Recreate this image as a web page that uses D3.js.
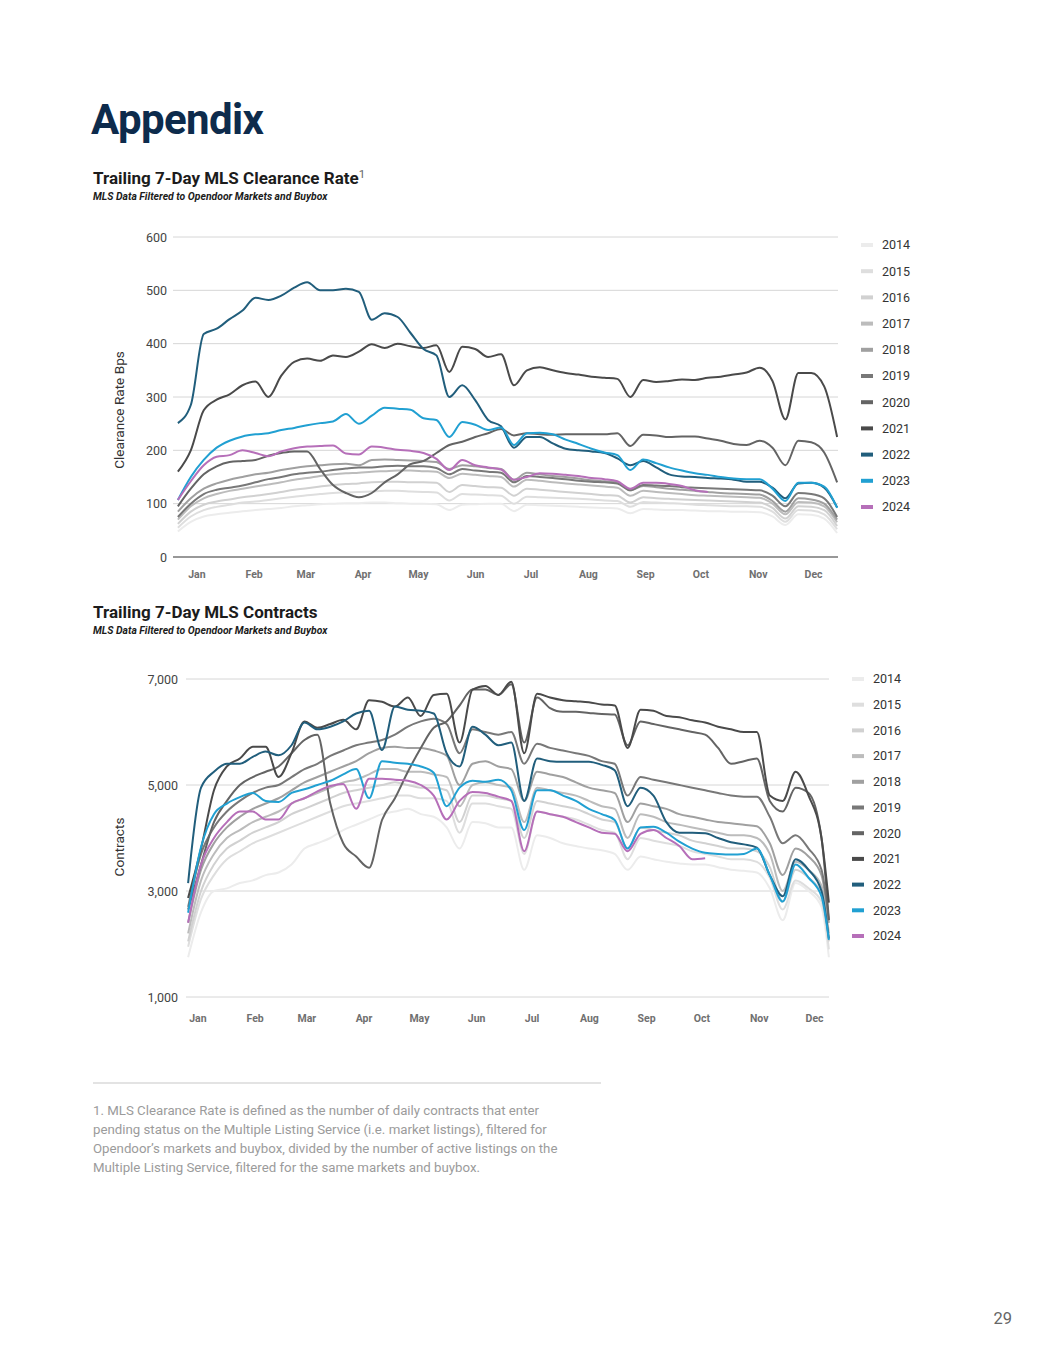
<!DOCTYPE html>
<html>
<head>
<meta charset="utf-8">
<script src="https://cdn.jsdelivr.net/npm/d3@7"></script>
<style>
  body { margin: 0; background: #fff; }
  svg { display: block; font-family: Roboto, "Noto Sans", sans-serif; }
</style>
</head>
<body>
<div id="page"></div>
<script>
// ---- data (weekly samples) ----
var years = ["2014", "2015", "2016", "2017", "2018", "2019", "2020", "2021", "2022", "2023", "2024"];
var yearColors = ["#ececec", "#dedede", "#d1d1d1", "#bcbcbc", "#a0a0a0", "#787878", "#646464", "#4a4a4a", "#215e7c", "#21a0d2", "#b66fb9"];

var monthNames = ["Jan", "Feb", "Mar", "Apr", "May", "Jun", "Jul", "Aug", "Sep", "Oct", "Nov", "Dec"];
var monthMidDays = [14, 45, 73, 104, 134, 165, 195, 226, 257, 287, 318, 348];

// day of year of each weekly sample
var days1 = [4, 11, 18, 25, 32, 39, 46, 53, 60, 67, 74, 81, 88, 95, 102, 109, 116, 123, 130, 137,
  144, 151, 158, 165, 172, 179, 186, 193, 200, 207, 214, 221, 228, 235, 242, 249, 256, 263, 270, 277,
  284, 291, 298, 305, 312, 319, 326, 333, 340, 347, 354, 361];
var days2 = [9, 16, 23, 30, 37, 44, 51, 58, 65, 72, 79, 86, 93, 100, 107, 114, 121, 128, 135, 142,
  149, 156, 163, 170, 177, 184, 191, 198, 205, 212, 219, 226, 233, 240, 247, 254, 261, 268, 275, 282,
  289, 296, 303, 310, 317, 324, 331, 338, 345, 352, 356];

// Trailing 7-day MLS clearance rate (bps)
var clear2014 = [48, 66, 76, 80, 83, 86, 88, 90, 92, 95, 97, 99, 100, 101, 101, 102, 102, 101, 100, 100, 99, 88, 98, 99, 100, 100, 86, 98, 97, 96, 95, 94, 93, 92, 91, 82, 90, 89, 88, 88, 87, 86, 86, 85, 85, 84, 76, 60, 80, 79, 72, 45];
var clear2015 = [55, 76, 88, 94, 98, 102, 104, 107, 110, 113, 116, 118, 120, 121, 122, 123, 124, 124, 123, 122, 121, 106, 118, 117, 116, 115, 100, 113, 112, 111, 110, 109, 108, 106, 105, 94, 103, 102, 101, 100, 98, 97, 96, 95, 95, 94, 85, 66, 88, 87, 80, 52];
var clear2016 = [62, 85, 98, 104, 108, 112, 115, 118, 122, 126, 129, 132, 135, 137, 138, 140, 141, 141, 140, 140, 139, 122, 135, 133, 131, 130, 115, 128, 126, 124, 122, 120, 118, 116, 115, 102, 112, 110, 109, 108, 107, 106, 105, 104, 103, 102, 92, 72, 95, 94, 88, 58];
var clear2017 = [70, 95, 110, 118, 124, 128, 132, 136, 140, 145, 148, 152, 155, 157, 158, 160, 161, 162, 162, 161, 160, 148, 156, 154, 152, 150, 132, 145, 143, 140, 138, 136, 134, 132, 130, 115, 124, 122, 120, 118, 116, 115, 114, 113, 112, 111, 100, 80, 103, 102, 95, 65];
var clear2018 = [85, 110, 128, 138, 145, 150, 155, 158, 163, 167, 170, 172, 174, 175, 172, 182, 183, 182, 181, 180, 178, 165, 172, 170, 167, 165, 145, 158, 155, 152, 150, 147, 144, 142, 140, 125, 133, 131, 128, 126, 124, 122, 120, 119, 118, 117, 105, 85, 110, 108, 100, 70];
var clear2019 = [75, 100, 118, 126, 130, 134, 140, 146, 150, 155, 158, 160, 163, 166, 168, 168, 170, 171, 170, 170, 167, 155, 165, 162, 160, 158, 140, 152, 150, 148, 146, 143, 141, 140, 138, 125, 135, 134, 133, 131, 130, 129, 128, 127, 126, 125, 115, 95, 120, 118, 110, 75];
var clear2020 = [95, 128, 155, 170, 178, 180, 182, 190, 195, 198, 198, 165, 135, 120, 112, 120, 140, 155, 174, 180, 195, 210, 216, 225, 232, 240, 228, 232, 230, 229, 230, 230, 230, 230, 232, 208, 229, 228, 225, 226, 226, 222, 218, 212, 210, 218, 205, 172, 218, 215, 196, 140];
var clear2021 = [160, 200, 275, 295, 305, 322, 329, 300, 340, 366, 372, 368, 378, 375, 385, 399, 392, 400, 395, 392, 397, 347, 394, 390, 375, 380, 322, 350, 356, 350, 345, 342, 338, 336, 334, 300, 332, 328, 330, 333, 332, 336, 338, 342, 346, 355, 330, 258, 345, 345, 320, 225];
var clear2022 = [251, 285, 418, 428, 446, 462, 486, 482, 490, 505, 515, 500, 500, 503, 497, 445, 457, 450, 420, 390, 378, 300, 322, 294, 257, 245, 205, 225, 225, 213, 203, 200, 198, 195, 185, 172, 180, 168, 155, 151, 150, 148, 147, 145, 141, 141, 130, 110, 138, 139, 130, 93];
var clear2023 = [107, 150, 182, 205, 218, 226, 230, 232, 238, 242, 247, 251, 254, 268, 250, 265, 280, 278, 276, 260, 257, 225, 253, 248, 238, 243, 210, 232, 233, 230, 220, 212, 203, 196, 191, 163, 183, 176, 168, 162, 157, 154, 150, 147, 146, 146, 128, 105, 139, 139, 132, 92];
var clear2024 = [107, 142, 172, 188, 191, 200, 195, 189, 198, 204, 207, 208, 209, 194, 192, 207, 205, 201, 199, 195, 184, 163, 182, 172, 168, 164, 145, 150, 157, 156, 154, 152, 148, 146, 142, 128, 139, 139, 137, 133, 125, 122];

// Trailing 7-day MLS contracts
var contr2014 = [1750, 2600, 3000, 3050, 3150, 3200, 3300, 3350, 3500, 3800, 3900, 4000, 4150, 4250, 4350, 4450, 4500, 4550, 4450, 4400, 4200, 3800, 4300, 4280, 4200, 4200, 3400, 4050, 4000, 3900, 3850, 3800, 3770, 3700, 3400, 3650, 3600, 3550, 3520, 3500, 3500, 3450, 3400, 3380, 3350, 3050, 2450, 3150, 3000, 2700, 1750];
var contr2015 = [1950, 2850, 3300, 3600, 3750, 3900, 4000, 4100, 4200, 4300, 4400, 4500, 4600, 4650, 4700, 4750, 4800, 4800, 4750, 4750, 4700, 4100, 4650, 4650, 4600, 4550, 3700, 4500, 4450, 4400, 4350, 4250, 4150, 4100, 3600, 4000, 3950, 3900, 3850, 3750, 3700, 3650, 3600, 3600, 3550, 3250, 2650, 3200, 3050, 2800, 1900];
var contr2016 = [2050, 3000, 3500, 3800, 3950, 4100, 4200, 4300, 4450, 4550, 4650, 4750, 4850, 4900, 4950, 5000, 5050, 5000, 4950, 4950, 4900, 4300, 4800, 4800, 4750, 4700, 4000, 4700, 4650, 4600, 4550, 4450, 4350, 4300, 3800, 4200, 4150, 4100, 4050, 3950, 3900, 3850, 3800, 3800, 3750, 3450, 2800, 3400, 3250, 2950, 2050];
var contr2017 = [2200, 3200, 3700, 4000, 4150, 4300, 4400, 4500, 4650, 4750, 4850, 4950, 5050, 5100, 5200, 5300, 5300, 5250, 5250, 5200, 5150, 4600, 5000, 5050, 5000, 4950, 4300, 4950, 4900, 4850, 4800, 4700, 4600, 4550, 4000, 4450, 4400, 4300, 4250, 4200, 4150, 4100, 4050, 4050, 4000, 3700, 3000, 3550, 3400, 3100, 2200];
var contr2018 = [2400, 3400, 3900, 4200, 4400, 4550, 4650, 4750, 4900, 5050, 5150, 5250, 5350, 5450, 5600, 5700, 5720, 5700, 5700, 5650, 5550, 5000, 5400, 5450, 5350, 5300, 4700, 5250, 5200, 5150, 5050, 4950, 4900, 4850, 4300, 4650, 4600, 4550, 4450, 4400, 4350, 4300, 4280, 4250, 4220, 3900, 3300, 3800, 3650, 3300, 2400];
var contr2019 = [2700, 3700, 4200, 4500, 4700, 4850, 4950, 5000, 5150, 5300, 5400, 5550, 5650, 5750, 5800, 5850, 5950, 6100, 6200, 6250, 6150, 5600, 6050, 6000, 5950, 6000, 5400, 5780, 5700, 5650, 5600, 5550, 5450, 5400, 4800, 5150, 5100, 5050, 5000, 4950, 4900, 4850, 4800, 4780, 4780, 4400, 3900, 4050, 3800, 3400, 2450];
var contr2020 = [2650, 3500, 4300, 4700, 5000, 5150, 5250, 5350, 5600, 5850, 5950, 4650, 3900, 3650, 3440, 4340, 4750, 5250, 5700, 6080, 6200, 6500, 6800, 6800, 6700, 6900, 5800, 6650, 6450, 6380, 6380, 6360, 6340, 6330, 5750, 6200, 6150, 6100, 6050, 6000, 5950, 5700, 5400, 5450, 5500, 4700, 4500, 4950, 4850, 4000, 2450];
var contr2021 = [2870, 3800, 4900, 5350, 5500, 5720, 5720, 5150, 5600, 6200, 6080, 6150, 6230, 6050, 6600, 6570, 6480, 6650, 6300, 6700, 6720, 5800, 6800, 6870, 6700, 6950, 5600, 6720, 6650, 6600, 6580, 6560, 6520, 6500, 5700, 6420, 6400, 6300, 6280, 6220, 6180, 6100, 6050, 6000, 6000, 4800, 4700, 5250, 4800, 4000, 2780];
var contr2022 = [3150, 4950, 5250, 5400, 5400, 5530, 5630, 5560, 5750, 6180, 6050, 6100, 6200, 6350, 6400, 5660, 6480, 6420, 6400, 6350, 5600, 5350, 6100, 5950, 5750, 5800, 4700, 5500, 5450, 5440, 5440, 5440, 5380, 5280, 4600, 4950, 4800, 4300, 4100, 4100, 4090, 4000, 3920, 3880, 3820, 3300, 2900, 3600, 3400, 3000, 2100];
var contr2023 = [2590, 3830, 4450, 4650, 4770, 4850, 4700, 4680, 4850, 4920, 5000, 5080, 5200, 5300, 4750, 5450, 5420, 5400, 5350, 5230, 4600, 4950, 5080, 5060, 5100, 4900, 4150, 4900, 4900, 4800, 4700, 4550, 4450, 4340, 3800, 4200, 4210, 4100, 3930, 3800, 3720, 3700, 3690, 3700, 3800, 3300, 2800, 3500, 3250, 2900, 2080];
var contr2024 = [2400, 3500, 4000, 4300, 4500, 4500, 4350, 4350, 4650, 4750, 4880, 4980, 5020, 4550, 5120, 5120, 5100, 5080, 5000, 4800, 4350, 4700, 4870, 4850, 4780, 4700, 3750, 4500, 4450, 4400, 4300, 4200, 4100, 4080, 3750, 4080, 4150, 4000, 3850, 3600, 3620];

var clearanceSeries = [clear2014, clear2015, clear2016, clear2017, clear2018, clear2019, clear2020, clear2021, clear2022, clear2023, clear2024];
var contractSeries = [contr2014, contr2015, contr2016, contr2017, contr2018, contr2019, contr2020, contr2021, contr2022, contr2023, contr2024];

// ---- page ----
var svg = d3.select("#page").append("svg")
    .attr("width", 1055)
    .attr("height", 1365);

svg.append("text")
    .attr("x", 91)
    .attr("y", 134)
    .attr("font-size", 42)
    .attr("font-weight", 700)
    .attr("letter-spacing", -0.6)
    .attr("fill", "#0d2b4c")
    .text("Appendix");

function drawChart(opt) {
    var g = svg.append("g");

    // titles
    var title = g.append("text")
        .attr("x", 93)
        .attr("y", opt.titleY)
        .attr("font-size", 17)
        .attr("font-weight", 700)
        .attr("fill", "#1c1c1c")
        .text(opt.title);
    if (opt.sup) {
        title.append("tspan")
            .attr("font-size", 11.5)
            .attr("font-weight", 400)
            .attr("fill", "#666")
            .attr("dy", -6)
            .text(opt.sup);
    }
    g.append("text")
        .attr("x", 93)
        .attr("y", opt.titleY + 16)
        .attr("font-size", 10.4)
        .attr("font-weight", 700)
        .attr("font-style", "italic")
        .attr("fill", "#1c1c1c")
        .text("MLS Data Filtered to Opendoor Markets and Buybox");

    // scales
    var x = d3.scaleLinear().domain([0, 365]).range(opt.xRange);
    var y = d3.scaleLinear().domain(opt.yDomain).range(opt.yRange);

    // grid lines
    g.selectAll(".grid")
        .data(opt.yTicks)
        .enter()
        .append("line")
        .attr("x1", opt.gridX[0])
        .attr("x2", opt.gridX[1])
        .attr("y1", d => y(d))
        .attr("y2", d => y(d))
        .attr("stroke", d => (opt.darkBase && d === opt.yDomain[0]) ? "#333" : "#d6d6d6")
        .attr("stroke-width", d => (opt.darkBase && d === opt.yDomain[0]) ? 1.2 : 1);

    // y axis labels
    var yAxis = d3.axisLeft(y)
        .tickValues(opt.yTicks)
        .tickSize(0)
        .tickPadding(0)
        .tickFormat(opt.yFormat);
    g.append("g")
        .attr("transform", `translate(${opt.yLabelX}, 0)`)
        .call(yAxis)
        .call(a => a.select(".domain").remove())
        .selectAll("text")
        .attr("font-family", "Roboto, sans-serif")
        .attr("font-size", 12.5)
        .attr("fill", "#444");

    // x axis labels
    var xAxis = d3.axisBottom(x)
        .tickValues(monthMidDays)
        .tickSize(0)
        .tickPadding(0)
        .tickFormat((d, i) => monthNames[i]);
    g.append("g")
        .attr("transform", `translate(0, ${opt.xLabelY})`)
        .call(xAxis)
        .call(a => a.select(".domain").remove())
        .selectAll("text")
        .attr("font-family", "Roboto, sans-serif")
        .attr("font-size", 10.5)
        .attr("font-weight", 700)
        .attr("fill", "#707070");

    // y axis title
    g.append("text")
        .attr("transform", `translate(${opt.yTitleX}, ${opt.yTitleY}) rotate(-90)`)
        .attr("text-anchor", "middle")
        .attr("font-size", 13.6)
        .attr("fill", "#333")
        .text(opt.yTitle);

    // lines
    var line = d3.line()
        .x(d => x(d[0]))
        .y(d => y(d[1]))
        .curve(d3.curveMonotoneX);

    opt.series.forEach(function(values, k) {
        var pts = values.map((v, i) => [opt.days[i], v]);
        g.append("path")
            .datum(pts)
            .attr("fill", "none")
            .attr("stroke", yearColors[k])
            .attr("stroke-width", 2)
            .attr("stroke-linejoin", "round")
            .attr("d", line);
    });

    // legend
    var legend = g.selectAll(".legend")
        .data(years)
        .enter()
        .append("g")
        .attr("transform", (d, i) => `translate(${opt.legendX}, ${opt.legendY + i * opt.legendStep})`);
    legend.append("rect")
        .attr("x", 0)
        .attr("y", -2)
        .attr("width", 12)
        .attr("height", 4)
        .attr("fill", (d, i) => yearColors[i]);
    legend.append("text")
        .attr("x", 21)
        .attr("dy", "0.35em")
        .attr("font-size", 12.5)
        .attr("fill", "#333")
        .text(d => d);
}

drawChart({
    title: "Trailing 7-Day MLS Clearance Rate",
    sup: "1",
    titleY: 184,
    xRange: [170.5, 844.5],
    yDomain: [0, 600],
    yRange: [557, 237],
    yTicks: [0, 100, 200, 300, 400, 500, 600],
    yFormat: d3.format("d"),
    darkBase: true,
    gridX: [173, 838],
    yLabelX: 167,
    xLabelY: 571,
    yTitle: "Clearance Rate Bps",
    yTitleX: 124,
    yTitleY: 410,
    days: days1,
    series: clearanceSeries,
    legendX: 861,
    legendY: 245,
    legendStep: 26.2
});

drawChart({
    title: "Trailing 7-Day MLS Contracts",
    titleY: 618,
    xRange: [171.5, 845.5],
    yDomain: [1000, 7000],
    yRange: [997, 679],
    yTicks: [1000, 3000, 5000, 7000],
    yFormat: d3.format(","),
    darkBase: false,
    gridX: [186, 829],
    yLabelX: 178,
    xLabelY: 1015,
    yTitle: "Contracts",
    yTitleX: 124,
    yTitleY: 847,
    days: days2,
    series: contractSeries,
    legendX: 852,
    legendY: 679,
    legendStep: 25.7
});

// footnote
svg.append("line")
    .attr("x1", 93)
    .attr("x2", 601)
    .attr("y1", 1083)
    .attr("y2", 1083)
    .attr("stroke", "#dadada")
    .attr("stroke-width", 1.5);

var footLines = [
    "1. MLS Clearance Rate is defined as the number of daily contracts that enter",
    "pending status on the Multiple Listing Service (i.e. market listings), filtered for",
    "Opendoor\u2019s markets and buybox, divided by the number of active listings on the",
    "Multiple Listing Service, filtered for the same markets and buybox."
];
svg.selectAll(".foot")
    .data(footLines)
    .enter()
    .append("text")
    .attr("x", 93)
    .attr("y", (d, i) => 1115 + i * 19)
    .attr("font-size", 13.25)
    .attr("fill", "#9b9b9b")
    .text(d => d);

svg.append("text")
    .attr("x", 1012)
    .attr("y", 1324)
    .attr("text-anchor", "end")
    .attr("font-size", 16.5)
    .attr("fill", "#666")
    .text("29");
</script>
</body>
</html>
